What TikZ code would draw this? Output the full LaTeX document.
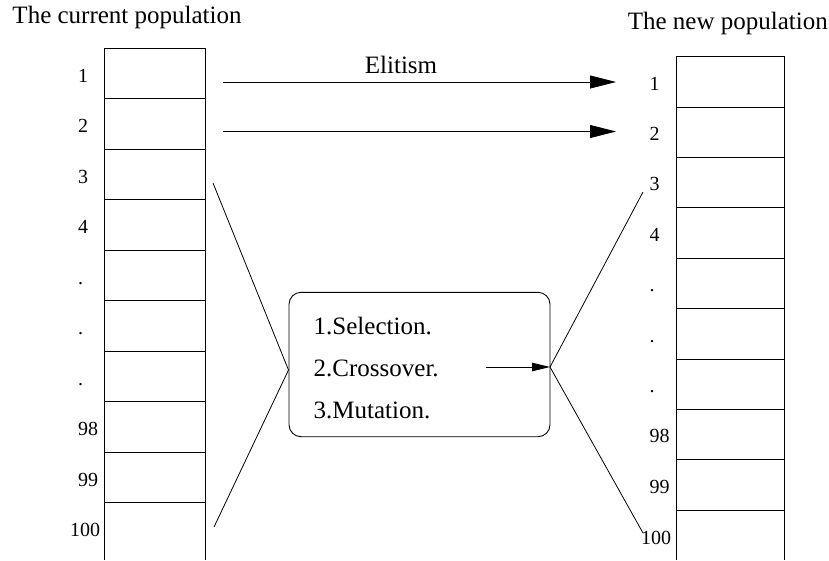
\documentclass[tikz,border=0pt]{standalone}
\usepackage{fontspec}
\setmainfont{Liberation Serif}
\usetikzlibrary{arrows.meta}
\begin{document}
\begin{tikzpicture}[x=1pt,y=-1pt,
  cellline/.style={line width=0.9pt},
  big/.style={font=\fontsize{25}{30}\selectfont, inner sep=0pt, anchor=base west},
  idx/.style={font=\fontsize{20}{24}\selectfont, inner sep=0pt, anchor=base west},
  link/.style={line width=0.8pt},
  elite/.style={line width=0.9pt, -{Triangle[length=26pt,width=13pt]}},
  flow/.style={line width=0.9pt, -{Triangle[length=18pt,width=8.5pt]}},
  opsbox/.style={draw, line width=0.9pt, rounded corners=12pt, inner sep=0pt,
    minimum width=261pt, minimum height=144.4pt},
]
\useasboundingbox (0,0) rectangle (829,560);

% titles
\node[big] (tcur) at (12.3,23.5) {The current population};
\node[big] (tnew) at (627.6,29.5) {The new population};

% current population: open-ended column of ten cells
\draw[cellline] (104,560) -- (104,48) -- (205,48) -- (205,560);
\foreach \i in {1,...,9}
  \draw[cellline] (104,{48+50.5*\i}) -- (205,{48+50.5*\i});
\foreach \t [count=\i] in {1,2,3,4,.,.,.,98,99}
  \node[idx] (cl\i) at (78,{82+50.5*(\i-1)}) {\t};
\node[idx] (cl10) at (70,536.5) {100};

% new population column
\draw[cellline] (676,560) -- (676,56.7) -- (784.5,56.7) -- (784.5,560);
\foreach \i in {1,...,9}
  \draw[cellline] (676,{56.7+50.4*\i}) -- (784.5,{56.7+50.4*\i});
\foreach \t [count=\i] in {1,2,3,4,.,.,.,98,99}
  \node[idx] (nl\i) at (649.5,{90+50.4*(\i-1)}) {\t};
\node[idx] (nl10) at (641,544) {100};

% elitism: best two copied over directly
\coordinate (e1s) at (222.7,82);
\coordinate (e1t) at (616,82);
\coordinate (e2s) at (222.7,131.5);
\coordinate (e2t) at (616,131.5);
\draw[elite] (e1s) -- (e1t);
\draw[elite] (e2s) -- (e2t);
\node[big] (elit) at (364.7,73) {Elitism};

% genetic operators
\node[opsbox] (ops) at (419.5,364.5) {};
\node[big] (op1) at (313.5,334) {1.Selection.};
\node[big] (op2) at (313.5,376.7) {2.Crossover.};
\node[big] (op3) at (313.5,418.3) {3.Mutation.};

\coordinate (inL) at (288.5,370);
\coordinate (outR) at (550,367);
\coordinate (fromA) at (213,183);
\coordinate (fromB) at (214,527);
\coordinate (toA) at (643,192);
\coordinate (toB) at (643,533);
\coordinate (flowS) at (485.7,367);

\draw[link] (fromA) -- (inL) -- (fromB);
\draw[link] (toA) -- (outR) -- (toB);
\draw[flow] (flowS) -- (outR);
\end{tikzpicture}
\end{document}
